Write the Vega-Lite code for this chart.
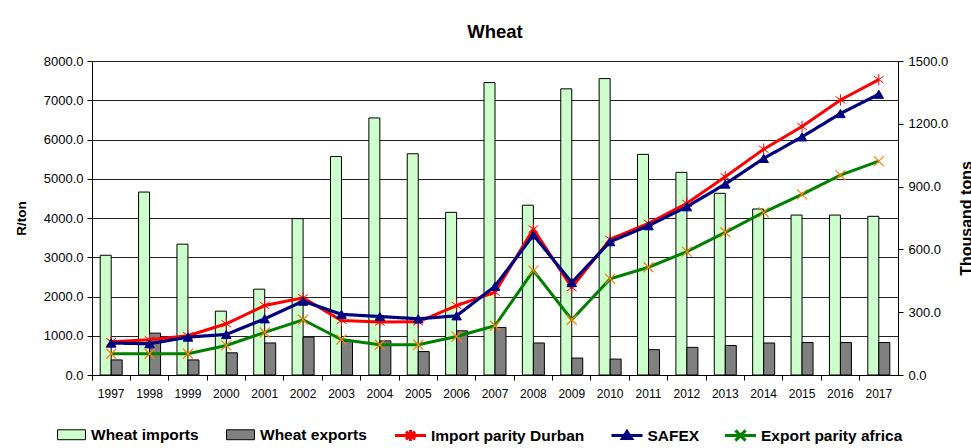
{
  "$schema": "https://vega.github.io/schema/vega-lite/v6.json",
  "autosize": {"type": "none"},
  "width": 806,
  "height": 314,
  "padding": {"left": 92, "top": 61, "right": 73, "bottom": 73},
  "background": "white",
  "title": {"text": "Wheat", "fontSize": 18.5, "font": "Liberation Sans", "fontWeight": "bold", "color": "#000", "offset": 14, "anchor": "middle"},
  "config": {
    "view": {"stroke": null},
    "font": "Liberation Sans",
    "axis": {"labelFont": "Liberation Sans", "labelColor": "#000", "domainColor": "#000", "tickColor": "#000", "titleColor": "#000", "titleFont": "Liberation Sans", "titleFontWeight": "bold"},
    "legend": {"orient": "none", "direction": "horizontal", "title": null, "symbolSize": 961, "labelOffset": 3.5, "labelFontSize": 15.5, "labelFontWeight": "bold", "labelFont": "Liberation Sans", "labelColor": "#000", "padding": 0, "legendY": 357.5, "symbolOpacity": 1}
  },
  "datasets": {
    "bars": [
      {"year": "1997", "series": "Wheat imports", "tons": 572}, {"year": "1997", "series": "Wheat exports", "tons": 72},
      {"year": "1998", "series": "Wheat imports", "tons": 874}, {"year": "1998", "series": "Wheat exports", "tons": 200},
      {"year": "1999", "series": "Wheat imports", "tons": 625}, {"year": "1999", "series": "Wheat exports", "tons": 72},
      {"year": "2000", "series": "Wheat imports", "tons": 305}, {"year": "2000", "series": "Wheat exports", "tons": 106},
      {"year": "2001", "series": "Wheat imports", "tons": 410}, {"year": "2001", "series": "Wheat exports", "tons": 153},
      {"year": "2002", "series": "Wheat imports", "tons": 747}, {"year": "2002", "series": "Wheat exports", "tons": 181},
      {"year": "2003", "series": "Wheat imports", "tons": 1044}, {"year": "2003", "series": "Wheat exports", "tons": 160},
      {"year": "2004", "series": "Wheat imports", "tons": 1228}, {"year": "2004", "series": "Wheat exports", "tons": 163},
      {"year": "2005", "series": "Wheat imports", "tons": 1057}, {"year": "2005", "series": "Wheat exports", "tons": 112},
      {"year": "2006", "series": "Wheat imports", "tons": 777}, {"year": "2006", "series": "Wheat exports", "tons": 211},
      {"year": "2007", "series": "Wheat imports", "tons": 1397}, {"year": "2007", "series": "Wheat exports", "tons": 227},
      {"year": "2008", "series": "Wheat imports", "tons": 811}, {"year": "2008", "series": "Wheat exports", "tons": 153},
      {"year": "2009", "series": "Wheat imports", "tons": 1367}, {"year": "2009", "series": "Wheat exports", "tons": 81},
      {"year": "2010", "series": "Wheat imports", "tons": 1416}, {"year": "2010", "series": "Wheat exports", "tons": 76},
      {"year": "2011", "series": "Wheat imports", "tons": 1054}, {"year": "2011", "series": "Wheat exports", "tons": 121},
      {"year": "2012", "series": "Wheat imports", "tons": 968}, {"year": "2012", "series": "Wheat exports", "tons": 132},
      {"year": "2013", "series": "Wheat imports", "tons": 868}, {"year": "2013", "series": "Wheat exports", "tons": 141},
      {"year": "2014", "series": "Wheat imports", "tons": 793}, {"year": "2014", "series": "Wheat exports", "tons": 153},
      {"year": "2015", "series": "Wheat imports", "tons": 764}, {"year": "2015", "series": "Wheat exports", "tons": 155},
      {"year": "2016", "series": "Wheat imports", "tons": 764}, {"year": "2016", "series": "Wheat exports", "tons": 155},
      {"year": "2017", "series": "Wheat imports", "tons": 758}, {"year": "2017", "series": "Wheat exports", "tons": 155}
    ],
    "lines": [
      {"year": "1997", "series": "Import parity Durban", "price": 847}, {"year": "1997", "series": "SAFEX", "price": 814}, {"year": "1997", "series": "Export parity africa", "price": 542},
      {"year": "1998", "series": "Import parity Durban", "price": 898}, {"year": "1998", "series": "SAFEX", "price": 796}, {"year": "1998", "series": "Export parity africa", "price": 542},
      {"year": "1999", "series": "Import parity Durban", "price": 1000}, {"year": "1999", "series": "SAFEX", "price": 966}, {"year": "1999", "series": "Export parity africa", "price": 542},
      {"year": "2000", "series": "Import parity Durban", "price": 1305}, {"year": "2000", "series": "SAFEX", "price": 1033}, {"year": "2000", "series": "Export parity africa", "price": 753},
      {"year": "2001", "series": "Import parity Durban", "price": 1770}, {"year": "2001", "series": "SAFEX", "price": 1432}, {"year": "2001", "series": "Export parity africa", "price": 1084},
      {"year": "2002", "series": "Import parity Durban", "price": 1966}, {"year": "2002", "series": "SAFEX", "price": 1882}, {"year": "2002", "series": "Export parity africa", "price": 1407},
      {"year": "2003", "series": "Import parity Durban", "price": 1390}, {"year": "2003", "series": "SAFEX", "price": 1545}, {"year": "2003", "series": "Export parity africa", "price": 905},
      {"year": "2004", "series": "Import parity Durban", "price": 1348}, {"year": "2004", "series": "SAFEX", "price": 1490}, {"year": "2004", "series": "Export parity africa", "price": 771},
      {"year": "2005", "series": "Import parity Durban", "price": 1355}, {"year": "2005", "series": "SAFEX", "price": 1432}, {"year": "2005", "series": "Export parity africa", "price": 771},
      {"year": "2006", "series": "Import parity Durban", "price": 1770}, {"year": "2006", "series": "SAFEX", "price": 1508}, {"year": "2006", "series": "Export parity africa", "price": 982},
      {"year": "2007", "series": "Import parity Durban", "price": 2110}, {"year": "2007", "series": "SAFEX", "price": 2260}, {"year": "2007", "series": "Export parity africa", "price": 1254},
      {"year": "2008", "series": "Import parity Durban", "price": 3720}, {"year": "2008", "series": "SAFEX", "price": 3568}, {"year": "2008", "series": "Export parity africa", "price": 2660},
      {"year": "2009", "series": "Import parity Durban", "price": 2228}, {"year": "2009", "series": "SAFEX", "price": 2355}, {"year": "2009", "series": "Export parity africa", "price": 1407},
      {"year": "2010", "series": "Import parity Durban", "price": 3458}, {"year": "2010", "series": "SAFEX", "price": 3397}, {"year": "2010", "series": "Export parity africa", "price": 2449},
      {"year": "2011", "series": "Import parity Durban", "price": 3865}, {"year": "2011", "series": "SAFEX", "price": 3804}, {"year": "2011", "series": "Export parity africa", "price": 2746},
      {"year": "2012", "series": "Import parity Durban", "price": 4374}, {"year": "2012", "series": "SAFEX", "price": 4287}, {"year": "2012", "series": "Export parity africa", "price": 3143},
      {"year": "2013", "series": "Import parity Durban", "price": 5050}, {"year": "2013", "series": "SAFEX", "price": 4865}, {"year": "2013", "series": "Export parity africa", "price": 3636},
      {"year": "2014", "series": "Import parity Durban", "price": 5754}, {"year": "2014", "series": "SAFEX", "price": 5518}, {"year": "2014", "series": "Export parity africa", "price": 4145},
      {"year": "2015", "series": "Import parity Durban", "price": 6332}, {"year": "2015", "series": "SAFEX", "price": 6067}, {"year": "2015", "series": "Export parity africa", "price": 4603},
      {"year": "2016", "series": "Import parity Durban", "price": 7008}, {"year": "2016", "series": "SAFEX", "price": 6662}, {"year": "2016", "series": "Export parity africa", "price": 5093},
      {"year": "2017", "series": "Import parity Durban", "price": 7527}, {"year": "2017", "series": "SAFEX", "price": 7153}, {"year": "2017", "series": "Export parity africa", "price": 5450}
    ]
  },
  "layer": [
    {
      "data": {"name": "bars"},
      "mark": {"type": "bar", "stroke": "#000", "strokeWidth": 1},
      "encoding": {
        "x": {"field": "year", "type": "ordinal", "scale": {"paddingInner": 0, "paddingOuter": 0},
              "axis": {"title": null, "bandPosition": 0, "labelAngle": 0, "labelFontSize": 12, "tickSize": 5, "labelPadding": 8, "grid": false}},
        "xOffset": {"field": "series", "type": "nominal", "sort": ["Wheat imports", "Wheat exports"], "scale": {"paddingOuter": 0.745, "paddingInner": 0}},
        "y": {"field": "tons", "type": "quantitative", "scale": {"domain": [0, 1500], "nice": false},
              "axis": {"orient": "right", "values": [0, 300, 600, 900, 1200, 1500], "format": ".1f", "title": "Thousand tons", "titleFontSize": 16, "titleAngle": 270, "titleBaseline": "top", "titlePadding": 11, "labelFontSize": 13, "tickSize": 5, "labelPadding": 5, "grid": false}},
        "fill": {"field": "series", "type": "nominal",
                 "scale": {"domain": ["Wheat imports", "Wheat exports"], "range": ["#ccffcc", "#808080"]},
                 "legend": {"legendX": -36.5, "columnPadding": 25, "symbolType": "M-0.9,-0.32H0.9V0.32H-0.9Z", "symbolStrokeColor": "#000", "symbolStrokeWidth": 1}}
      }
    },
    {
      "data": {"name": "lines"},
      "encoding": {
        "x": {"field": "year", "type": "ordinal"},
        "y": {"field": "price", "type": "quantitative", "scale": {"domain": [0, 8000], "nice": false},
              "axis": {"orient": "left", "values": [0, 1000, 2000, 3000, 4000, 5000, 6000, 7000, 8000], "format": ".1f", "title": "R/ton", "titleFontSize": 13.5, "titlePadding": 15, "labelFontSize": 13, "tickSize": 5, "labelPadding": 4, "grid": true, "gridColor": "#222", "gridWidth": 1}}
      },
      "layer": [
        {"transform": [{"filter": "datum.series === 'Import parity Durban'"}], "mark": {"type": "line", "strokeWidth": 3},
         "encoding": {"stroke": {"field": "series", "type": "nominal", "scale": {"domain": ["Import parity Durban"], "range": ["#ff0000"]},
                                 "legend": {"legendX": 301.5, "symbolType": "M-1,0H1M0,-0.36V0.36M-0.3,-0.24L0.3,0.24M-0.3,0.24L0.3,-0.24", "symbolStrokeWidth": 3, "symbolFillColor": "transparent"}}}},
        {"transform": [{"filter": "datum.series === 'Import parity Durban'"}], "mark": {"type": "point", "shape": "M0,-1V1M-0.85,-0.6L0.85,0.6M-0.85,0.6L0.85,-0.6", "filled": false, "stroke": "#ff0000", "strokeWidth": 1, "size": 130, "opacity": 1}},
        {"transform": [{"filter": "datum.series === 'SAFEX'"}], "mark": {"type": "line", "strokeWidth": 3.2, "color": "#000080"},
         "encoding": {"strokeDash": {"field": "series", "type": "nominal", "scale": {"domain": ["SAFEX"], "range": [[1, 0]]},
                                     "legend": {"legendX": 518, "symbolType": "M-1,0H1M-0.3,0.2L0,-0.26L0.3,0.2Z", "symbolStrokeWidth": 3, "symbolStrokeColor": "#000080", "symbolFillColor": "#000080"}}}},
        {"transform": [{"filter": "datum.series === 'SAFEX'"}], "mark": {"type": "point", "shape": "triangle-up", "filled": true, "fill": "#000080", "stroke": "#000080", "strokeWidth": 1, "size": 90, "opacity": 1}},
        {"transform": [{"filter": "datum.series === 'Export parity africa'"}], "mark": {"type": "line", "strokeWidth": 3, "color": "#008000"},
         "encoding": {"opacity": {"field": "series", "type": "nominal", "scale": {"domain": ["Export parity africa"], "range": [1]},
                                  "legend": {"legendX": 631.5, "symbolType": "M-1,0H1M-0.33,-0.33L0.33,0.33M-0.33,0.33L0.33,-0.33", "symbolStrokeWidth": 3, "symbolStrokeColor": "#008000", "symbolFillColor": "transparent"}}}},
        {"transform": [{"filter": "datum.series === 'Export parity africa'"}], "mark": {"type": "point", "shape": "M-1,-1L1,1M-1,1L1,-1", "filled": false, "stroke": "#ff8000", "strokeWidth": 1.2, "size": 100, "opacity": 1}}
      ]
    }
  ],
  "resolve": {"scale": {"y": "independent"}}
}
